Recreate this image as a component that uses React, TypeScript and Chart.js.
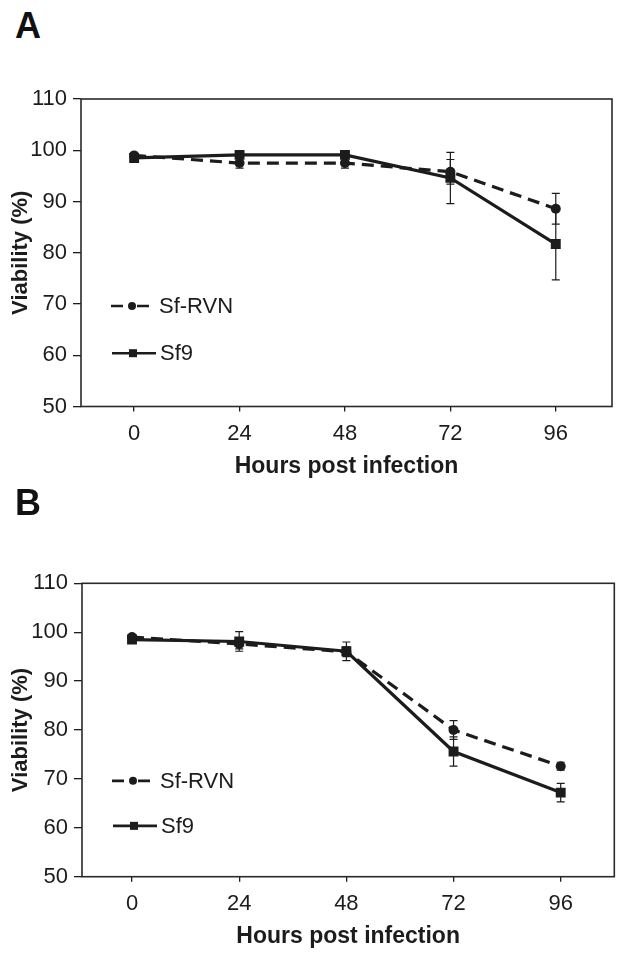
import React, { useEffect, useRef } from "react";
import { Chart, registerables } from "chart.js";

Chart.register(...registerables);

// ---------- data ----------
const hours = [0, 24, 48, 72, 96];
const xTickLabels = ["0", "24", "48", "72", "96"];
const yTicks = [50, 60, 70, 80, 90, 100, 110];
const seriesNames = ["Sf-RVN", "Sf9"];
const xTitle = "Hours post infection";
const yTitle = "Viability (%)";

// Panel A
const sfRvnA = [99, 97.5, 97.5, 95.8, 88.6];
const sfRvnErrA = [0.4, 1, 1, 2.4, 3];
const sf9A = [98.5, 99.1, 99.1, 94.6, 81.7];
const sf9ErrA = [0.4, 0.4, 0.4, 5, 7];

// Panel B
const sfRvnB = [99, 97.6, 96, 80, 72.6];
const sfRvnErrB = [0.4, 1, 1, 1.9, 0.8];
const sf9B = [98.5, 98.1, 96.1, 75.6, 67.2];
const sf9ErrB = [0.4, 2, 1.9, 3, 1.9];

// legend rows (in y-axis units)
const legendRowValues = [69.6, 60.4];

const INK = "#1c1c1c";
const FONT = "'Liberation Sans', Arial, Helvetica, sans-serif";

Chart.defaults.font.family = FONT;

const framePlugin = {
  id: "frame",
  afterDatasetsDraw(chart: any) {
    const { ctx, chartArea: a } = chart;
    ctx.save();
    ctx.strokeStyle = "#2a2a2a";
    ctx.lineWidth = 1.6;
    ctx.strokeRect(a.left, a.top, a.right - a.left, a.bottom - a.top);
    ctx.restore();
  },
};

const errorPlugin = {
  id: "errbars",
  afterDatasetsDraw(chart: any) {
    const { ctx } = chart;
    const ys = chart.scales.y;
    const xs = chart.scales.x;
    ctx.save();
    ctx.strokeStyle = INK;
    ctx.lineWidth = 1.2;
    chart.data.datasets.forEach((ds: any) => {
      const errs: number[] = ds.errors || [];
      ds.data.forEach((pt: any, i: number) => {
        const e = errs[i];
        if (!e) return;
        const x = xs.getPixelForValue(pt.x);
        const y1 = ys.getPixelForValue(pt.y + e);
        const y2 = ys.getPixelForValue(pt.y - e);
        ctx.beginPath();
        ctx.moveTo(x, y1);
        ctx.lineTo(x, y2);
        ctx.moveTo(x - 4, y1);
        ctx.lineTo(x + 4, y1);
        ctx.moveTo(x - 4, y2);
        ctx.lineTo(x + 4, y2);
        ctx.stroke();
      });
    });
    ctx.restore();
  },
};

const legendPlugin = {
  id: "customLegend",
  afterDraw(chart: any) {
    const { ctx, chartArea: a } = chart;
    const ys = chart.scales.y;
    ctx.save();
    ctx.fillStyle = INK;
    ctx.strokeStyle = INK;
    ctx.lineWidth = 2.6;
    // row 1: dashed + circle
    let y = ys.getPixelForValue(legendRowValues[0]);
    const x0 = a.left + 30;
    ctx.beginPath();
    ctx.moveTo(x0, y);
    ctx.lineTo(x0 + 12, y);
    ctx.moveTo(x0 + 26, y);
    ctx.lineTo(x0 + 38, y);
    ctx.stroke();
    ctx.beginPath();
    ctx.arc(x0 + 21, y, 4, 0, Math.PI * 2);
    ctx.fill();
    ctx.font = `22px ${FONT}`;
    ctx.textBaseline = "middle";
    ctx.textAlign = "left";
    ctx.fillText(seriesNames[0], a.left + 78, y + 1);
    // row 2: solid + square
    y = ys.getPixelForValue(legendRowValues[1]);
    ctx.beginPath();
    ctx.moveTo(x0 + 1, y);
    ctx.lineTo(x0 + 45, y);
    ctx.stroke();
    ctx.fillRect(x0 + 18, y - 4, 8, 8);
    ctx.fillText(seriesNames[1], a.left + 79, y + 1);
    ctx.restore();
  },
};

type PanelSpec = {
  rvn: number[];
  rvnErr: number[];
  sf9: number[];
  sf9Err: number[];
  xMin: number;
  xMax: number;
  padTop: number;
  padRight: number;
  yWidth: number;
  xHeight: number;
  xTitlePad: number;
};

function buildConfig(p: PanelSpec): any {
  return {
    type: "line",
    data: {
      datasets: [
        {
          label: seriesNames[0],
          data: hours.map((h, i) => ({ x: h, y: p.rvn[i] })),
          errors: p.rvnErr,
          borderColor: INK,
          backgroundColor: INK,
          borderWidth: 3.2,
          borderDash: [12, 7],
          pointStyle: "circle",
          pointRadius: 5,
          pointBorderWidth: 0,
          pointBackgroundColor: INK,
          tension: 0,
        },
        {
          label: seriesNames[1],
          data: hours.map((h, i) => ({ x: h, y: p.sf9[i] })),
          errors: p.sf9Err,
          borderColor: INK,
          backgroundColor: INK,
          borderWidth: 3.2,
          pointStyle: "rect",
          pointRadius: 7,
          pointBorderWidth: 0,
          pointBackgroundColor: INK,
          tension: 0,
        },
      ],
    },
    options: {
      responsive: false,
      animation: false,
      layout: { padding: { top: p.padTop, right: p.padRight, left: 0, bottom: 0 } },
      plugins: { legend: { display: false }, tooltip: { enabled: false } },
      scales: {
        x: {
          type: "linear",
          min: p.xMin,
          max: p.xMax,
          afterBuildTicks: (s: any) => {
            s.ticks = hours.map((v) => ({ value: v }));
          },
          afterFit: (s: any) => {
            s.height = p.xHeight;
          },
          ticks: {
            callback: (v: number) => {
              const i = hours.indexOf(v);
              return i >= 0 ? xTickLabels[i] : "";
            },
            font: { size: 22 },
            color: INK,
            padding: 9,
            maxRotation: 0,
            autoSkip: false,
          },
          grid: { drawOnChartArea: false, tickLength: 5, color: INK, lineWidth: 1.3 },
          border: { display: false },
          title: {
            display: true,
            text: xTitle,
            font: { size: 23, weight: "bold" },
            color: INK,
            padding: { top: 0, bottom: p.xTitlePad },
          },
        },
        y: {
          type: "linear",
          min: 50,
          max: 110,
          afterBuildTicks: (s: any) => {
            s.ticks = yTicks.map((v) => ({ value: v }));
          },
          afterFit: (s: any) => {
            s.width = p.yWidth;
          },
          ticks: { font: { size: 22 }, color: INK, padding: 6 },
          grid: { drawOnChartArea: false, tickLength: 8, color: INK, lineWidth: 1.3 },
          border: { display: false },
          title: {
            display: true,
            text: yTitle,
            font: { size: 22, weight: "bold" },
            color: INK,
            padding: { top: 8, bottom: 0 },
          },
        },
      },
    },
    plugins: [errorPlugin, framePlugin, legendPlugin],
  };
}

function Panel({ spec, top, height }: { spec: PanelSpec; top: number; height: number }) {
  const ref = useRef<HTMLCanvasElement>(null);
  useEffect(() => {
    if (!ref.current) return;
    const chart = new Chart(ref.current, buildConfig(spec));
    return () => chart.destroy();
  }, []);
  return (
    <canvas
      ref={ref}
      width={624}
      height={height}
      style={{ position: "absolute", left: 0, top, width: 624, height, display: "block" }}
    />
  );
}

const specA: PanelSpec = {
  rvn: sfRvnA,
  rvnErr: sfRvnErrA,
  sf9: sf9A,
  sf9Err: sf9ErrA,
  xMin: -12.1,
  xMax: 108.8,
  padTop: 99,
  padRight: 12,
  yWidth: 81,
  xHeight: 83.5,
  xTitlePad: 9.5,
};

const specB: PanelSpec = {
  rvn: sfRvnB,
  rvnErr: sfRvnErrB,
  sf9: sf9B,
  sf9Err: sf9ErrB,
  xMin: -11.2,
  xMax: 108,
  padTop: 93.3,
  padRight: 9.7,
  yWidth: 82,
  xHeight: 82.3,
  xTitlePad: 8.5,
};

const letterStyle: React.CSSProperties = {
  position: "absolute",
  left: 15,
  fontFamily: FONT,
  fontWeight: "bold",
  fontSize: 36,
  lineHeight: "36px",
  color: "#111",
};

export default function App() {
  return (
    <div
      style={{
        position: "absolute",
        left: 0,
        top: 0,
        width: 624,
        height: 959,
        background: "#fff",
        overflow: "hidden",
      }}
    >
      <div style={{ ...letterStyle, top: 8 }}>A</div>
      <Panel spec={specA} top={0} height={490} />
      <div style={{ ...letterStyle, top: 485 }}>B</div>
      <Panel spec={specB} top={490} height={469} />
    </div>
  );
}
